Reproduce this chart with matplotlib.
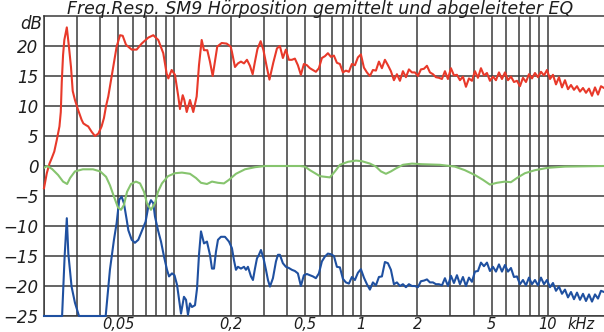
import numpy as np
import matplotlib.pyplot as plt
from matplotlib.ticker import FixedLocator, FixedFormatter, NullFormatter

# measured response, low-frequency part (Hz, dB)
red_lf_freq = [20, 20.7, 21.4, 22.0, 22.7, 23.4, 24.2, 24.6, 24.9, 25.3,
               25.7, 26.5, 27.2, 27.9, 28.5, 29.3, 30.5, 31.8, 32.5, 33.6,
               34.5, 36.0, 37.5, 39.1, 40.7, 41.9, 43.0, 44.2, 47.0, 49.0,
               51.1, 52.8, 55.0, 59.0, 62.7, 66.7, 72.4, 77.0, 81.9, 87.1,
               90.8, 92.7, 96.6, 100.6, 104.8, 107.0, 110.7, 112.9, 116.3, 121.1,
               126.1, 131.5, 135.3, 139.9, 143.9, 149.9, 154.9, 160.2, 164.8, 169.5,
               179.0, 190.4, 200, 203.2, 210.9, 218.8, 227.1, 235.7, 244.5, 253.7,
               262.3, 269.9, 278.3, 289.5, 299.7, 311.8, 322.7, 338.2, 354.0]
red_lf_db = [-3.7, -1.2, 0.4, 1.3, 2.4, 4.3, 6.6, 9.0, 14.0, 18.5,
             21.0, 23.1, 19.9, 16.5, 12.5, 11.0, 9.3, 7.7, 7.1, 6.8,
             6.6, 5.7, 5.0, 5.4, 6.6, 8.0, 10.0, 11.6, 16.5, 19.9,
             21.8, 21.7, 20.2, 19.4, 19.4, 20.4, 21.4, 21.8, 21.0, 18.8,
             15.4, 14.6, 16.0, 15.2, 11.6, 9.5, 11.8, 11.0, 9.0, 11.0,
             9.0, 11.6, 16.8, 21.0, 19.3, 19.3, 17.4, 15.0, 17.4, 19.9,
             20.5, 20.4, 19.9, 19.0, 16.5, 17.1, 17.4, 17.1, 17.7, 16.7,
             15.3, 17.4, 19.5, 20.8, 19.3, 16.6, 14.4, 17.2, 19.6]

# measured response above 367 Hz, on the analyser's log-spaced bins
red_hf_db = [20.0, 18.0, 19.4, 17.7, 17.7, 17.9, 16.8, 15.2, 17.0, 16.8,
             16.3, 16.0, 15.7, 16.3, 18.0, 18.3, 18.8, 18.2, 18.4, 17.2,
             17.0, 15.6, 15.9, 15.7, 17.0, 16.8, 18.1, 18.6, 16.4, 15.6,
             15.0, 16.0, 15.9, 17.4, 16.3, 17.7, 16.8, 15.8, 14.3, 15.3,
             14.2, 15.8, 14.8, 16.1, 15.6, 15.6, 15.0, 16.1, 16.2, 16.7,
             15.6, 15.3, 14.8, 14.7, 14.5, 15.8, 14.5, 16.3, 15.1, 15.2,
             14.3, 14.9, 13.2, 14.6, 14.2, 15.8, 14.7, 16.3, 15.1, 15.5,
             14.2, 14.9, 14.3, 15.6, 14.5, 15.6, 14.3, 14.9, 14.0, 14.2,
             13.3, 14.7, 14.0, 15.3, 14.6, 15.5, 14.8, 15.7, 15.1, 16.0,
             14.5, 15.2, 13.6, 14.8, 13.1, 14.3, 12.8, 13.5, 12.7, 13.3,
             12.4, 13.0, 12.2, 12.9, 11.7, 13.1, 11.9, 13.3, 13.0]

# response with EQ applied
blue_lf_freq = [20, 25.0, 25.8, 26.5, 27.0, 28.1, 29.3, 30.8, 42.8, 45.1,
                47.4, 49.0, 50.6, 52.1, 53.6, 55.5, 56.6, 59.0, 61.4, 64.0,
                66.7, 70.0, 72.4, 74.8, 77.0, 78.6, 81.6, 84.7, 87.9, 91.2,
                93.5, 97.0, 100, 103.2, 105.7, 108.4, 112.4, 115.3, 118.1, 121.1,
                124.1, 128.8, 132.1, 135.3, 138.7, 143.9, 149.3, 154.9, 158.8, 162.8,
                166.8, 171.0, 177.4, 186.4, 195.9, 203.2, 208.3, 213.5, 218.8, 227.1,
                235.7, 241.5, 247.5, 256.9, 263.3, 269.9, 276.6, 283.5, 290.6, 300,
                309.1, 316.8, 324.7, 336.9, 349.7, 358.4]
blue_lf_db = [-25, -25, -15, -8.7, -14.6, -20.1, -22.8, -25, -25, -17.3,
              -12.3, -9.5, -5.6, -5.1, -6.2, -9.0, -10.7, -12.3, -12.8, -12.3,
              -10.9, -9.3, -6.8, -5.7, -6.2, -8.4, -10.7, -12.6, -15.1, -17.3,
              -18.4, -17.9, -18.2, -19.8, -22.1, -24.6, -21.8, -22.3, -24.8, -22.9,
              -23.5, -23.2, -20.4, -14.8, -10.9, -12.9, -12.6, -14.8, -17.1, -17.1,
              -14.3, -12.3, -11.8, -11.8, -12.6, -13.7, -15.7, -17.3, -16.8, -17.1,
              -16.8, -17.3, -16.8, -18.4, -19.0, -17.1, -15.4, -14.8, -14.0, -15.4,
              -17.3, -19.0, -20.1, -18.7, -15.9, -14.8]
blue_hf_db = [-14.8, -16.2, -16.8, -17.0, -17.3, -17.5, -17.9, -20.0, -18.2, -18.0,
              -18.2, -18.4, -18.7, -17.9, -15.9, -15.1, -14.6, -14.7, -15.0, -16.8,
              -16.9, -18.8, -19.4, -19.6, -18.5, -19.0, -17.8, -17.2, -18.6, -19.7,
              -20.6, -19.4, -19.9, -18.5, -18.4, -16.0, -16.2, -17.3, -19.7, -19.4,
              -20.0, -19.7, -20.2, -19.7, -20.0, -20.0, -20.2, -19.2, -19.1, -18.9,
              -19.4, -19.4, -19.7, -19.7, -19.9, -18.7, -20.0, -18.3, -19.5, -18.2,
              -19.7, -18.5, -20.0, -18.6, -19.3, -17.6, -17.5, -16.1, -16.7, -16.1,
              -17.5, -16.8, -17.6, -16.4, -17.6, -16.5, -17.6, -17.0, -18.5, -18.4,
              -19.7, -19.0, -19.9, -18.6, -19.7, -19.0, -19.9, -18.6, -19.7, -19.0,
              -20.2, -19.5, -20.8, -20.1, -21.3, -20.6, -21.9, -21.0, -22.2, -21.1,
              -22.3, -21.3, -22.5, -21.4, -22.6, -21.4, -22.1, -20.8, -21.0]

# derived EQ curve
green_freq = [20, 20.8, 22.1, 23.8, 25.3, 26.6, 27.6, 29.3, 32.3, 36.6,
              40, 43.0, 45.1, 47.4, 49.8, 51.7, 53.6, 55.7, 58.5, 62.2,
              65.4, 68.7, 71.2, 74.8, 78.6, 81.6, 85.7, 92.3, 100.6, 109.7,
              121.1, 130.4, 138.7, 149.3, 158.8, 171.0, 184.1, 195.9, 213.5, 238.6,
              269.9, 305, 470, 500, 532, 566, 602, 680, 724, 770,
              850, 938, 1010, 1115, 1200, 1277, 1358, 1444, 1536, 1675,
              1871, 2116, 2643, 3180, 3596, 4067, 4490, 4896, 5338, 5892,
              6344, 6832, 7540, 8530, 10010, 12350, 20000]
green_db = [-0.3, 0.0, -0.5, -1.5, -2.6, -3.0, -2.0, -0.9, -0.55, -0.55,
            -0.9, -1.8, -3.2, -5.1, -6.9, -7.3, -6.5, -4.3, -3.0, -2.6,
            -2.9, -4.3, -6.2, -7.3, -6.2, -4.3, -2.9, -1.7, -1.2, -1.1,
            -1.3, -2.0, -2.8, -3.0, -2.6, -2.8, -2.9, -2.3, -1.3, -0.55,
            -0.2, 0.0, 0.0, -0.1, -0.7, -1.2, -1.7, -1.9, -0.9, 0.2,
            0.7, 0.9, 0.8, 0.4, -0.1, -0.9, -1.3, -0.9, -0.4, 0.2,
            0.4, 0.3, 0.2, -0.1, -0.7, -1.5, -2.3, -3.1, -2.8, -2.6,
            -2.7, -2.0, -1.2, -0.7, -0.3, -0.1, 0.0]

major_freqs = [50, 200, 500, 1000, 2000, 5000, 10000]
major_labels = ['0,05', '0,2', '0,5', '1', '2', '5', '10']
grid_freqs = [20, 30, 40, 50, 60, 70, 80, 90, 100, 200, 300, 400,
              500, 600, 700, 800, 900, 1000, 2000, 3000, 4000,
              5000, 6000, 7000, 8000, 9000, 10000]
db_ticks = [20, 15, 10, 5, 0, -5, -10, -15, -20, -25]

red_freq = np.concatenate([red_lf_freq, np.geomspace(367, 20000, len(red_hf_db))])
red = np.concatenate([red_lf_db, red_hf_db])
blue_freq = np.concatenate([blue_lf_freq, np.geomspace(367, 20000, len(blue_hf_db))])
blue = np.concatenate([blue_lf_db, blue_hf_db])

GRID = '#3a3a3a'
TXT = '#1e1e1e'
plt.rcParams['font.family'] = 'DejaVu Sans'

fig = plt.figure(figsize=(6.04, 3.32), dpi=100)
ax = fig.add_axes([44 / 604, 16 / 332, 560 / 604, 300 / 332])
ax.set_xscale('log')
ax.set_xlim(20, 20000)
ax.set_ylim(-25, 25)

ax.plot(red_freq, red, color='#e8392a', lw=1.5, clip_on=False, zorder=3)
ax.plot(blue_freq, blue, color='#1f50a0', lw=1.5, clip_on=False, zorder=3)
ax.plot(green_freq, green_db, color='#86c46e', lw=1.5, zorder=4)

ax.xaxis.set_major_locator(FixedLocator(major_freqs))
ax.xaxis.set_major_formatter(FixedFormatter(major_labels))
ax.xaxis.set_minor_locator(FixedLocator(grid_freqs))
ax.xaxis.set_minor_formatter(NullFormatter())
ax.set_yticks(db_ticks)
ax.set_yticklabels([str(v).replace('-', '\u2212') for v in db_ticks])

ax.grid(which='both', axis='x', color=GRID, lw=1.1)
ax.grid(which='major', axis='y', color=GRID, lw=1.1)
ax.set_axisbelow(True)
for side in ['left', 'bottom', 'top']:
    ax.spines[side].set_color(GRID)
    ax.spines[side].set_linewidth(1.1)
ax.spines['right'].set_visible(False)

ax.tick_params(which='both', length=0)
ax.tick_params(axis='x', pad=1)
ax.tick_params(axis='y', pad=4)
for lab in ax.get_yticklabels():
    lab.set_fontstyle('italic')
    lab.set_fontsize(12)
    lab.set_color(TXT)
for lab in ax.get_xticklabels():
    lab.set_fontstyle('italic')
    lab.set_fontsize(10.5)
    lab.set_color(TXT)

ax.text(-0.004, 0.973, 'dB', transform=ax.transAxes, ha='right', va='center',
        fontsize=12, style='italic', color=TXT)
ax.text(0.934, -0.004, 'kHz', transform=ax.transAxes, ha='left', va='top',
        fontsize=10.5, style='italic', color=TXT)

fig.text(320 / 604, 1 - 13.5 / 332,
         'Freq.Resp. SM9 Hörposition gemittelt und abgeleiteter EQ',
         ha='center', va='baseline', fontsize=12.5, style='italic', color=TXT)

fig.savefig('out.png', dpi=100)
